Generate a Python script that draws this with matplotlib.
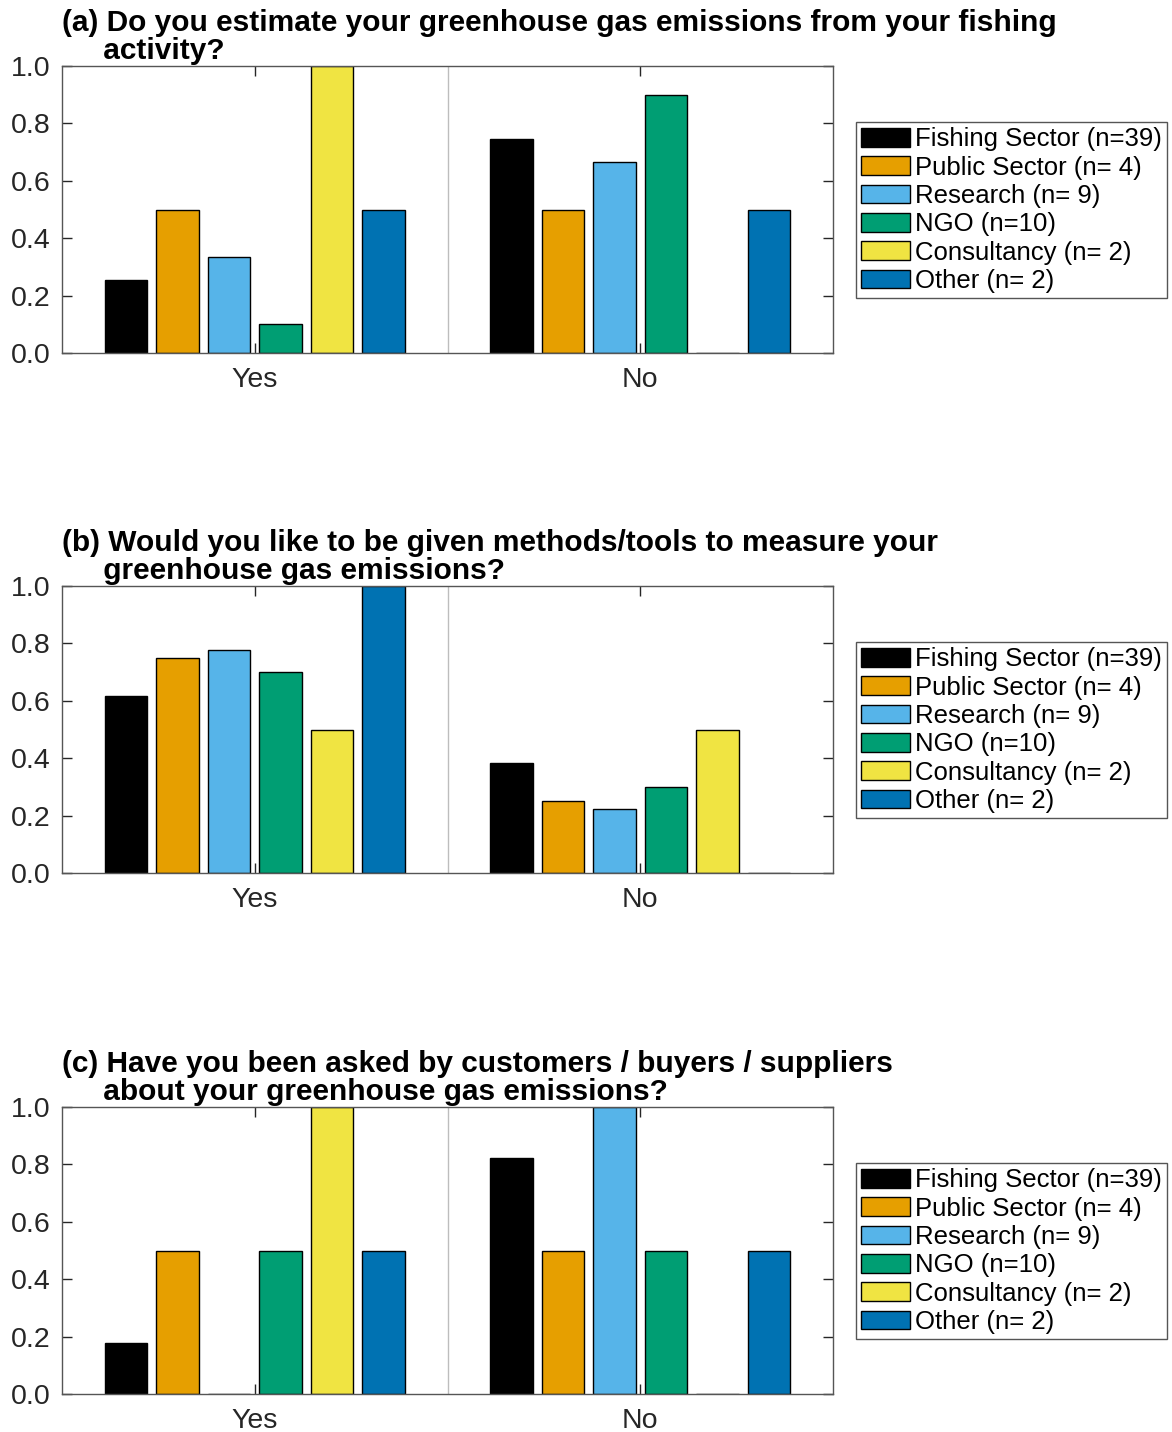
import numpy as np
import matplotlib
matplotlib.use("Agg")
import matplotlib.pyplot as plt
from matplotlib.patches import Patch

plt.rcParams['font.family'] = ['Liberation Sans', 'DejaVu Sans']

answers = ['Yes', 'No']
groups = ['Fishing Sector (n=39)', 'Public Sector (n= 4)', 'Research (n= 9)',
          'NGO (n=10)', 'Consultancy (n= 2)', 'Other (n= 2)']
colors = ['#000000', '#E69F00', '#56B4E9', '#009E73', '#F0E442', '#0072B2']

titles = [
    ('(a) Do you estimate your greenhouse gas emissions from your fishing', 'activity?'),
    ('(b) Would you like to be given methods/tools to measure your', 'greenhouse gas emissions?'),
    ('(c) Have you been asked by customers / buyers / suppliers', 'about your greenhouse gas emissions?'),
]

# fraction of each group answering Yes / No, one row per group
q_a = [[0.256, 0.744],
       [0.5, 0.5],
       [0.333, 0.667],
       [0.1, 0.9],
       [1.0, 0.0],
       [0.5, 0.5]]
q_b = [[0.615, 0.385],
       [0.75, 0.25],
       [0.778, 0.222],
       [0.7, 0.3],
       [0.5, 0.5],
       [1.0, 0.0]]
q_c = [[0.179, 0.821],
       [0.5, 0.5],
       [0.0, 1.0],
       [0.5, 0.5],
       [1.0, 0.0],
       [0.5, 0.5]]

fig = plt.figure(figsize=(11.72, 14.32), dpi=100)
W, H = 1172.0, 1432.0
ax_tops = [66, 586, 1107]
ax_h = 287
x = np.arange(1, len(answers) + 1)
step = 0.1336
width = 0.109
axis_col = '#262626'

for k, data in enumerate([q_a, q_b, q_c]):
    top = ax_tops[k]
    ax = fig.add_axes([62 / W, 1 - (top + ax_h) / H, 771 / W, ax_h / H])
    for i, vals in enumerate(data):
        ax.bar(x + (i - 2.5) * step, vals, width, color=colors[i],
               edgecolor='black', linewidth=1.0, zorder=3)
    ax.axvline(1.5, color='#bdbdbd', lw=1.0, zorder=1)
    ax.set_xlim(0.5, 2.5)
    ax.set_ylim(0, 1)
    ax.set_xticks(x)
    ax.set_xticklabels(answers)
    ax.set_yticks(np.arange(0, 1.01, 0.2))
    ax.set_yticklabels(['%.1f' % v for v in np.arange(0, 1.01, 0.2)])
    ax.tick_params(direction='in', top=True, right=True, length=7, width=1,
                   color=axis_col, labelcolor=axis_col, labelsize=20.5)
    ax.tick_params(axis='x', pad=10)
    ax.tick_params(axis='y', pad=8)
    for s in ax.spines.values():
        s.set_color('#555555')
        s.set_linewidth(1.0)
        s.set_zorder(4)

    line1, line2 = titles[k]
    ax.set_title(line1 + '\n' + '     ' + line2, loc='left', fontsize=21.5,
                 fontweight='bold', pad=5, linespacing=1.02)

    handles = [Patch(facecolor=c, edgecolor='black', linewidth=1.0) for c in colors]
    leg = fig.legend(handles, groups, loc='upper left',
                     bbox_to_anchor=(856 / W, 1 - (top + 56) / H),
                     fontsize=18.5, frameon=True, fancybox=False, framealpha=1,
                     edgecolor='#555555', handlelength=1.9, handleheight=0.75,
                     handletextpad=0.2, labelspacing=0.17, borderpad=0.2,
                     borderaxespad=0)
    leg.get_frame().set_linewidth(1.0)

fig.savefig('out.png', dpi=100)
